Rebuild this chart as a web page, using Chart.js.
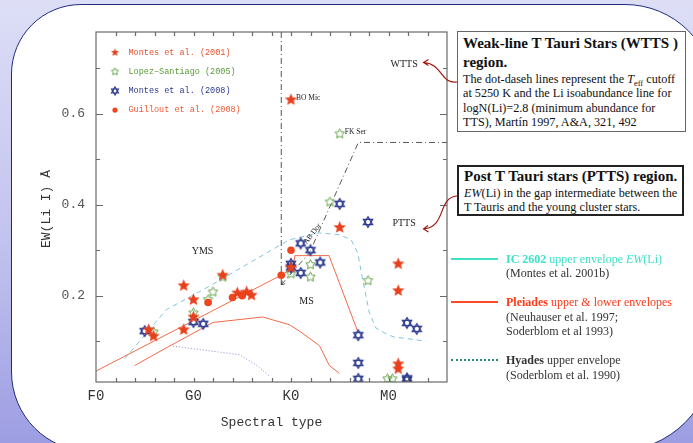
<!DOCTYPE html>
<html>
<head>
<meta charset="utf-8">
<script src="https://cdn.jsdelivr.net/npm/chart.js@4.4.0/dist/chart.umd.min.js"></script>
<style>
html, body { margin: 0; padding: 0; }
body {
    width: 693px; height: 443px; overflow: hidden; position: relative;
    background: linear-gradient(to bottom, #dddef6 0%, #c2c2ef 55%, #9d9de3 100%);
    font-family: "Liberation Serif", serif;
}
#sheet {
    position: absolute; left: 11px; top: 4px; width: 704px; height: 448px;
    background: #fff; border: 1.5px solid #1f2b7e; box-sizing: border-box;
    border-radius: 70px 90px 100px 80px;
}
#chart { position: absolute; left: 0; top: 0; }
.box { position: absolute; background: #fff; box-sizing: border-box; color: #111; padding-left: 5px; }
#box1 { left: 457px; top: 31px; width: 229px; height: 101px; border: 1.5px solid #666; padding-top: 2px; }
#box2 { left: 457px; top: 165px; width: 227px; height: 51px; border: 2px solid #222; }
.ttl { font-weight: bold; font-size: 15px; line-height: 19px; white-space: nowrap; }
.txt { font-size: 12.2px; line-height: 14.3px; white-space: nowrap; }
.txt sub { font-size: 8.5px; line-height: 0; vertical-align: -3px; }
.key { position: absolute; left: 451px; width: 47px; height: 0; }
.lg { position: absolute; left: 506px; font-size: 12px; line-height: 14.5px; color: #333; white-space: nowrap; }
</style>
</head>
<body>
<div id="sheet"></div>
<canvas id="chart" width="693" height="443"></canvas>

<div class="box" id="box1">
    <div class="ttl">Weak-line T Tauri Stars (WTTS )</div>
    <div class="ttl">region.</div>
    <div class="txt">The dot-daseh lines represent the <i>T</i><sub>eff</sub> cutoff</div>
    <div class="txt">at 5250 K and the Li isoabundance line for</div>
    <div class="txt">logN(Li)=2.8 (minimum abundance for</div>
    <div class="txt">TTS), Martín 1997, A&amp;A, 321, 492</div>
</div>
<div class="box" id="box2">
    <div class="ttl">Post T Tauri stars (PTTS) region.</div>
    <div class="txt" style="line-height:14px"><i>EW</i>(Li) in the gap intermediate between the</div>
    <div class="txt" style="line-height:14px">T Tauris and the young cluster stars.</div>
</div>

<div class="key" style="top:258px;border-top:2px solid #3fe0c8"></div>
<div class="lg" style="top:251.5px"><span style="color:#3fe0c8"><b>IC 2602</b> upper envelope <i>EW</i>(Li)</span><br>(Montes et al. 2001b)</div>
<div class="key" style="top:301px;border-top:2px solid #ff4a2a"></div>
<div class="lg" style="top:295px"><span style="color:#ff3a1a"><b>Pleiades</b> upper &amp; lower envelopes</span><br>(Neuhauser et al. 1997;<br>Soderblom et al 1993)</div>
<div class="key" style="top:359px;border-top:2px dotted #2a8a7a"></div>
<div class="lg" style="top:353px"><b>Hyades</b> upper envelope<br>(Soderblom et al. 1990)</div>

<script>
// Eixos
const xTickNames = ['F0', 'G0', 'K0', 'M0'];   // a cada 10 subclasses
const yTickValues = [0.2, 0.4, 0.6];

// Estrelas (tipo espectral em subclasses desde F0, EW(Li) em Å)
const montes2001X = [5.4, 5.9, 9.0, 9.0, 10.0, 10.0, 13.0, 14.5, 15.45, 15.95, 20.0, 20.0, 25.0, 31.0, 31.0, 31.0, 31.0];
const montes2001Y = [0.125, 0.111, 0.222, 0.125, 0.191, 0.153, 0.245, 0.206, 0.208, 0.201, 0.631, 0.262, 0.350, 0.270, 0.211, 0.050, 0.039];

const lopezX = [5.9, 10.0, 11.5, 12.0, 13.0, 20.0, 22.0, 22.0, 24.0, 25.0, 27.9, 29.9, 30.4];
const lopezY = [0.120, 0.162, 0.191, 0.208, 0.241, 0.248, 0.268, 0.241, 0.406, 0.556, 0.233, 0.017, 0.017];

const montes2008X = [5.0, 10.0, 11.0, 20.0, 20.0, 21.0, 21.0, 22.0, 23.0, 25.0, 27.9, 26.9, 26.9, 26.9, 31.9, 32.9, 31.9, 31.9];
const montes2008Y = [0.122, 0.142, 0.138, 0.270, 0.262, 0.315, 0.250, 0.300, 0.273, 0.402, 0.362, 0.113, 0.052, 0.017, 0.140, 0.127, 0.015, 0.018];

const guilloutX = [11.5, 14.0, 15.0, 19.0, 20.0];
const guilloutY = [0.185, 0.196, 0.200, 0.245, 0.300];

// Envelopes
const ic2602X = [2.94, 7.2, 11.65, 19.84, 22.85, 24.97, 26.16, 26.84, 27.36, 28.04, 28.7, 29.92, 30.6, 33.85];
const ic2602Y = [0.061, 0.169, 0.221, 0.323, 0.338, 0.334, 0.323, 0.294, 0.235, 0.162, 0.129, 0.114, 0.109, 0.100];

const pleiadesUpX = [0, 19.0, 20.2, 20.4, 23.9, 26.9];
const pleiadesUpY = [0.034, 0.245, 0.262, 0.288, 0.288, 0.118];

const pleiadesLowX = [3.96, 6.86, 12.0, 17.1, 19.84, 20.87, 22.92, 23.94, 24.97];
const pleiadesLowY = [0.046, 0.081, 0.141, 0.153, 0.136, 0.122, 0.090, 0.046, 0.029];

const hyadesX = [7.89, 14.72, 16.4, 17.79];
const hyadesY = [0.089, 0.070, 0.048, 0.023];

// Linhas traço-ponto (Martín 1997)
const teffCutX = [19.0, 19.0];
const teffCutY = [0.78, 0.224];
const liIsoX = [19.0, 21.89, 26.91, 36.0];
const liIsoY = [0.224, 0.294, 0.537, 0.537];

// Rótulos dentro do gráfico
const regionLabels = [
    { text: 'YMS', x: 10.93, y: 0.297 },
    { text: 'MS', x: 21.6, y: 0.187 },
    { text: 'PTTS', x: 31.6, y: 0.358 },
    { text: 'WTTS', x: 31.6, y: 0.708 }
];
const starNames = [
    { text: 'BO Mic', x: 20.0, y: 0.631 },
    { text: 'FK Ser', x: 25.0, y: 0.556 }
];

const pts = (xs, ys) => xs.map((x, i) => ({ x: x, y: ys[i] }));

function starImage(r, inner, fill, stroke, lw) {
    const s = Math.ceil(2 * r + lw + 2);
    const c = document.createElement('canvas');
    c.width = c.height = s;
    const g = c.getContext('2d');
    g.translate(s / 2, s / 2);
    g.beginPath();
    for (let i = 0; i < 10; i++) {
        const a = -Math.PI / 2 + i * Math.PI / 5;
        const rr = i % 2 ? r * inner : r;
        g.lineTo(rr * Math.cos(a), rr * Math.sin(a));
    }
    g.closePath();
    if (fill) { g.fillStyle = fill; g.fill(); }
    if (stroke) { g.strokeStyle = stroke; g.lineWidth = lw; g.lineJoin = 'miter'; g.stroke(); }
    return c;
}

function hexImage(r, stroke, lw) {
    const s = Math.ceil(2 * r + lw + 2);
    const c = document.createElement('canvas');
    c.width = c.height = s;
    const g = c.getContext('2d');
    g.translate(s / 2, s / 2);
    g.strokeStyle = stroke;
    g.lineWidth = lw;
    [-Math.PI / 2, Math.PI / 2].forEach(a0 => {
        g.beginPath();
        for (let i = 0; i < 3; i++) {
            const a = a0 + i * 2 * Math.PI / 3;
            g.lineTo(r * Math.cos(a), r * Math.sin(a));
        }
        g.closePath();
        g.stroke();
    });
    return c;
}

const RED = '#e8401c', GREEN = '#5fa040', BLUE = '#2c3a90', ORANGE = '#f0441e';
const redStar = starImage(6.5, 0.45, RED, null, 0);
const greenStar = starImage(5.0, 0.5, null, GREEN, 1);
const blueHex = hexImage(5.3, BLUE, 1.3);
const redStarS = starImage(4.2, 0.45, RED, null, 0);
const greenStarS = starImage(3.8, 0.5, null, GREEN, 1);
const blueHexS = hexImage(4.0, BLUE, 1.2);

const legendItems = [
    { text: 'Montes et al. (2001)', color: '#e8502e', img: redStarS },
    { text: 'Lopez\u2013Santiago (2005)', color: '#5a9a38', img: greenStarS },
    { text: 'Montes et al. (2008)', color: '#2c3a8c', img: blueHexS },
    { text: 'Guillout et al. (2008)', color: '#f05a36', img: null }
];

const decor = {
    id: 'decor',
    afterDatasetsDraw(chart) {
        const { ctx, chartArea: a, scales: { x, y } } = chart;
        ctx.save();
        // moldura e marcas para dentro
        ctx.strokeStyle = '#6a6a6a';
        ctx.lineWidth = 1.2;
        ctx.strokeRect(a.left, a.top, a.right - a.left, a.bottom - a.top);
        ctx.beginPath();
        for (let v = 2; v < 36; v += 2) {
            const px = Math.round(x.getPixelForValue(v)) + 0.5;
            ctx.moveTo(px, a.bottom); ctx.lineTo(px, a.bottom - 4);
            ctx.moveTo(px, a.top); ctx.lineTo(px, a.top + 4);
        }
        for (let k = 1; k <= 7; k++) {
            const py = Math.round(y.getPixelForValue(k / 10)) + 0.5;
            const len = k % 2 === 0 ? 7 : 4;
            ctx.moveTo(a.left, py); ctx.lineTo(a.left + len, py);
            ctx.moveTo(a.right, py); ctx.lineTo(a.right - len, py);
        }
        ctx.stroke();

        // ponta de seta no fim da linha de isoabundância
        const ax = x.getPixelForValue(liIsoX[0]), ay = y.getPixelForValue(liIsoY[0]);
        ctx.strokeStyle = '#444';
        ctx.lineWidth = 0.9;
        ctx.beginPath();
        ctx.moveTo(ax + 4, ay - 1); ctx.lineTo(ax, ay); ctx.lineTo(ax + 1, ay - 4);
        ctx.stroke();

        // legenda interna
        ctx.font = '8.5px "Liberation Mono"';
        ctx.textBaseline = 'middle';
        legendItems.forEach((it, i) => {
            const ly = 52.5 + i * 19.2;
            if (it.img) {
                ctx.drawImage(it.img, 115 - it.img.width / 2, ly - it.img.height / 2);
            } else {
                ctx.fillStyle = ORANGE;
                ctx.beginPath(); ctx.arc(115, ly, 2.6, 0, Math.PI * 2); ctx.fill();
            }
            ctx.fillStyle = it.color;
            ctx.fillText(it.text, 128.5, ly);
        });

        // rótulos de regiões
        ctx.fillStyle = '#222';
        ctx.font = '10px "Liberation Serif"';
        ctx.textAlign = 'center';
        regionLabels.forEach(l => ctx.fillText(l.text, x.getPixelForValue(l.x), y.getPixelForValue(l.y)));
        ctx.textAlign = 'left';
        ctx.font = '7.5px "Liberation Serif"';
        starNames.forEach(l => ctx.fillText(l.text, x.getPixelForValue(l.x) + 5, y.getPixelForValue(l.y) - 2));
        ctx.save();
        ctx.translate(x.getPixelForValue(22.2), y.getPixelForValue(0.336));
        ctx.rotate(-52 * Math.PI / 180);
        ctx.textAlign = 'center';
        ctx.fillText('AB Dor', 0, 0);
        ctx.restore();

        // títulos dos eixos
        ctx.fillStyle = '#333';
        ctx.font = '13px "Liberation Mono"';
        ctx.textAlign = 'center';
        ctx.fillText('Spectral type', (a.left + a.right) / 2, 423);
        ctx.save();
        ctx.translate(47, (a.top + a.bottom) / 2 + 2);
        ctx.rotate(-Math.PI / 2);
        ctx.fillText('EW(Li I) \u00c5', 0, 0);
        ctx.restore();
        ctx.restore();
    },
    afterDraw(chart) {
        const ctx = chart.ctx;
        ctx.save();
        ctx.strokeStyle = '#a01a10';
        ctx.lineWidth = 1.2;
        // seta WTTS
        ctx.beginPath();
        ctx.moveTo(457, 82);
        ctx.bezierCurveTo(440, 84, 443, 64, 424, 62.5);
        ctx.moveTo(428.5, 59.5); ctx.lineTo(423.5, 62.5); ctx.lineTo(428.5, 65.5);
        ctx.stroke();
        // seta PTTS
        ctx.beginPath();
        ctx.moveTo(457, 196);
        ctx.bezierCurveTo(437, 198, 447, 226, 424, 229);
        ctx.moveTo(428, 225.5); ctx.lineTo(423.5, 229); ctx.lineTo(428.5, 232);
        ctx.stroke();
        ctx.restore();
    }
};

const lineSet = (xs, ys, color, dash, order) => ({
    data: pts(xs, ys), showLine: true, pointRadius: 0, borderColor: color,
    borderWidth: 1, borderDash: dash, fill: false, order: order
});

new Chart(document.getElementById('chart').getContext('2d'), {
    type: 'scatter',
    data: {
        datasets: [
            { label: 'Montes et al. (2001)', data: pts(montes2001X, montes2001Y), pointStyle: redStar, order: 0 },
            { label: 'Guillout et al. (2008)', data: pts(guilloutX, guilloutY), pointStyle: 'circle', pointRadius: 3.8,
              backgroundColor: ORANGE, borderWidth: 0, order: 1 },
            { label: 'Montes et al. (2008)', data: pts(montes2008X, montes2008Y), pointStyle: blueHex, order: 2 },
            { label: 'Lopez-Santiago (2005)', data: pts(lopezX, lopezY), pointStyle: greenStar, order: 3 },
            lineSet(ic2602X, ic2602Y, '#80c4de', [5, 4], 5),
            lineSet(pleiadesUpX, pleiadesUpY, '#f06a4a', [], 6),
            lineSet(pleiadesLowX, pleiadesLowY, '#f06a4a', [], 7),
            lineSet(hyadesX, hyadesY, '#8a8ad4', [1, 2], 8),
            lineSet(teffCutX, teffCutY, '#555', [6, 3, 1, 3], 9),
            lineSet(liIsoX, liIsoY, '#555', [6, 3, 1, 3], 10)
        ]
    },
    options: {
        responsive: false,
        animation: false,
        events: [],
        layout: { padding: { left: 36, top: 32, right: 246, bottom: 0 } },
        plugins: { legend: { display: false }, tooltip: { enabled: false } },
        scales: {
            x: {
                type: 'linear', min: 0, max: 36,
                grid: { display: false, drawTicks: false },
                border: { display: false },
                afterFit: s => { s.height = 61; },
                ticks: {
                    stepSize: 2, autoSkip: false, maxRotation: 0, padding: 6,
                    color: '#333', font: { family: 'Liberation Mono', size: 14 },
                    callback: v => (v % 10 === 0 ? xTickNames[v / 10] : '')
                }
            },
            y: {
                min: 0.01, max: 0.78,
                grid: { display: false, drawTicks: false },
                border: { display: false },
                afterFit: s => { s.width = 60; },
                afterBuildTicks: s => { s.ticks = yTickValues.map(v => ({ value: v })); },
                ticks: {
                    padding: 11, color: '#555',
                    font: { family: 'Liberation Mono', size: 13 },
                    callback: v => v.toFixed(1)
                }
            }
        }
    },
    plugins: [decor]
});
</script>
</body>
</html>
